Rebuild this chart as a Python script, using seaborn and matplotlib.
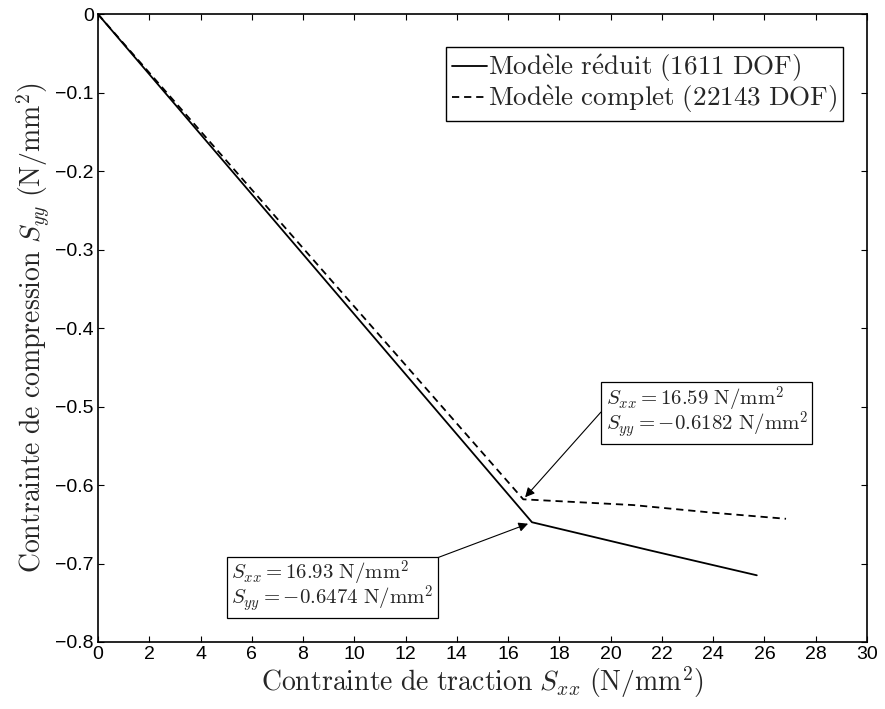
import seaborn as sns
import numpy as np
import matplotlib
matplotlib.use("Agg")
import matplotlib.pyplot as plt
import pandas as pd

# donnees
x_reduit = [0, 16.93, 19.0, 21.5, 25.7]
y_reduit = [0, -0.6474, -0.6635, -0.683, -0.715]
x_complet = [0, 16.59, 20.88, 24.0, 26.84]
y_complet = [0, -0.6182, -0.6255, -0.6353, -0.643]

lab_reduit = r"$\mathrm{Mod\grave{e}le\ r\acute{e}duit\ (1611\ DOF)}$"
lab_complet = r"$\mathrm{Mod\grave{e}le\ complet\ (22143\ DOF)}$"

xticks = list(range(0, 31, 2))
yticks = [0, -0.1, -0.2, -0.3, -0.4, -0.5, -0.6, -0.7, -0.8]
ytick_labels = ["0", "\u22120.1", "\u22120.2", "\u22120.3", "\u22120.4",
                "\u22120.5", "\u22120.6", "\u22120.7", "\u22120.8"]

sns.set_style("ticks")
plt.rcParams["font.family"] = ["Liberation Sans", "DejaVu Sans"]
plt.rcParams["mathtext.fontset"] = "cm"

df_r = pd.DataFrame({"x": x_reduit, "y": y_reduit})
df_c = pd.DataFrame({"x": x_complet, "y": y_complet})

fig = plt.figure(figsize=(8.85, 7.09), dpi=100)
ax = fig.add_axes([0.1107, 0.0945, 0.869, 0.8855])

sns.lineplot(data=df_r, x="x", y="y", sort=False, color="k", lw=1.3,
             label=lab_reduit, ax=ax)
sns.lineplot(data=df_c, x="x", y="y", sort=False, color="k", lw=1.3,
             dashes=False, ax=ax, label=lab_complet)
ax.lines[1].set_dashes((4, 2.7))

ax.set_xlim(0, 30)
ax.set_ylim(-0.8, 0)
ax.set_xticks(xticks)
ax.set_yticks(yticks)
ax.set_yticklabels(ytick_labels)
ax.tick_params(direction="in", length=4, width=0.8, top=True, right=True,
               labelsize=14, colors="k", pad=3)
for s in ax.spines.values():
    s.set_visible(True)
    s.set_linewidth(1.2)
    s.set_color("k")

ax.set_xlabel(r"$\mathrm{Contrainte\ de\ traction}\ S_{xx}\ (\mathrm{N/mm}^2)$",
              fontsize=20, labelpad=1)
ax.set_ylabel(r"$\mathrm{Contrainte\ de\ compression}\ S_{yy}\ (\mathrm{N/mm}^2)$",
              fontsize=20, labelpad=2)

leg = ax.legend(loc="upper right", bbox_to_anchor=(0.969, 0.9475),
                borderaxespad=0, fontsize=19.5, handlelength=1.3,
                handletextpad=0.05, fancybox=False, framealpha=1,
                edgecolor="k", borderpad=0.2, labelspacing=0.0)
leg.get_frame().set_linewidth(1.0)

bbox_kw = dict(boxstyle="square,pad=0.2", fc="white", ec="k", lw=0.9)
ax.annotate(r"$S_{xx} = 16.59\ \mathrm{N/mm}^2$" + "\n" + r"$S_{yy} = -0.6182\ \mathrm{N/mm}^2$",
            xy=(x_complet[1], y_complet[1]), xytext=(19.8, -0.4725),
            ha="left", va="top", fontsize=15, linespacing=0.75, bbox=bbox_kw,
            arrowprops=dict(arrowstyle="-|>", color="k", lw=0.8,
                            mutation_scale=14, shrinkA=0, shrinkB=2,
                            relpos=(0, 0.6)))
ax.annotate(r"$S_{xx} = 16.93\ \mathrm{N/mm}^2$" + "\n" + r"$S_{yy} = -0.6474\ \mathrm{N/mm}^2$",
            xy=(x_reduit[1], y_reduit[1]), xytext=(5.2, -0.6945),
            ha="left", va="top", fontsize=15, linespacing=0.75, bbox=bbox_kw,
            arrowprops=dict(arrowstyle="-|>", color="k", lw=0.8,
                            mutation_scale=14, shrinkA=0, shrinkB=3,
                            relpos=(1, 1)))

fig.savefig("out.png", dpi=100)
